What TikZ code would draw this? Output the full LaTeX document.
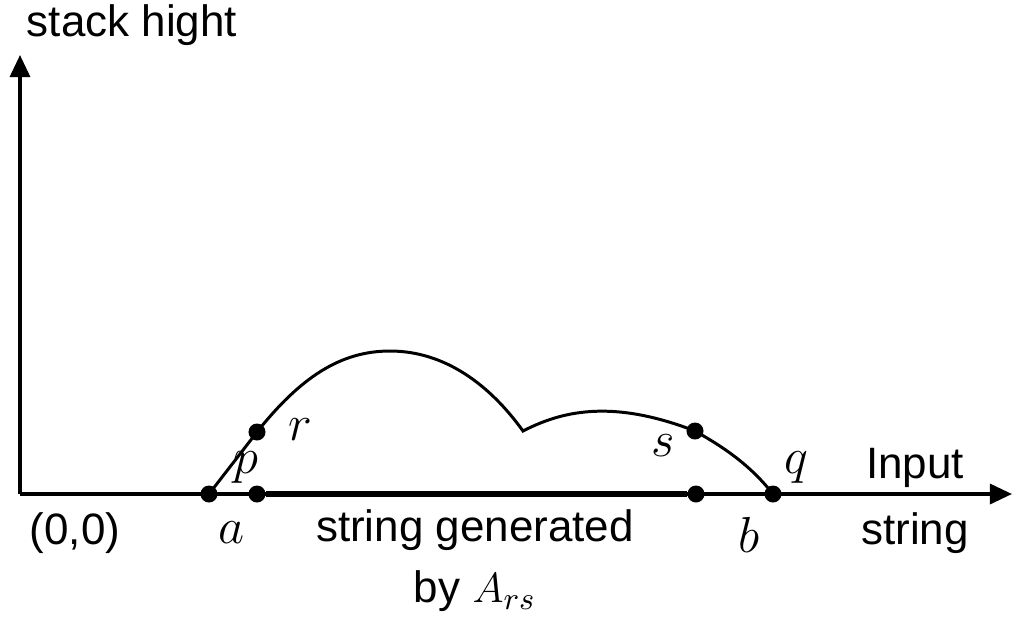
\documentclass[tikz,border=0pt]{standalone}
\usepackage{fontspec}
\setsansfont{Liberation Sans}
\usepackage{tikz}
\usetikzlibrary{arrows.meta,positioning,calc}

\begin{document}
\begin{tikzpicture}[
  x=0.01cm, y=-0.01cm,
  font=\sffamily\fontsize{12.5}{15}\selectfont,
  pt/.style={circle, fill=black, inner sep=0pt, minimum size=0.17cm},
  axis/.style={-{Triangle[length=2.2mm, width=2mm]}, line width=0.9pt},
  path/.style={line width=0.85pt},
  lbl/.style={inner sep=1pt},
  mlbl/.style={inner sep=1pt, font=\fontsize{14}{16}\selectfont}]
  \useasboundingbox (0,0) rectangle (1014,617);
  % axes
  \coordinate (o) at (20,494);
  \coordinate (ytip) at (20,55);
  \coordinate (xtip) at (1012,494);
  \draw[axis] (o) -- (ytip);
  \draw[axis] (o) -- (xtip);
  \node[lbl] (ylab) at (132,25) {stack hight};
  % points on the input axis
  \node[pt] (a) at (209,494) {};
  \node[pt] (p) at (257,494) {};
  \node[pt] (e) at (696,494) {};
  \node[pt] (b) at (773,494) {};
  % points on the stack curve
  \node[pt] (r) at (257,432) {};
  \node[pt] (s) at (695,431) {};
  \coordinate (top) at (390,351);
  \coordinate (cusp) at (523,431);
  % substring
  \draw[line width=1.5pt] (p) -- (e);
  % stack curve
  \draw[path] (a.center) -- (r.center)
    .. controls (300,378) and (340,351) .. (top)
    .. controls (445,351) and (490,385) .. (cusp)
    .. controls (560,412) and (610,398) .. (s.center)
    .. controls (725,448) and (750,465) .. (b.center);
  % labels
  \node[mlbl] (rl) at (300,430) {$r$};
  \node[mlbl] (pl) at (246,468) {$p$};
  \node[mlbl] (sl) at (663,446) {$s$};
  \node[mlbl] (ql) at (796,468) {$q$};
  \node[mlbl] (al) at (232,533) {$a$};
  \node[mlbl] (bl) at (749,535) {$b$};
  \node[lbl] (orig) at (75,533) {(0,0)};
  \node[lbl] (gen) at (475,530) {string generated};
  \node[lbl, below=0.12cm of gen] (by) {by $A_{rs}$};
  \node[lbl] (inp) at (915,468) {Input};
  \node[lbl] (str) at (915,533) {string};
\end{tikzpicture}
\end{document}
